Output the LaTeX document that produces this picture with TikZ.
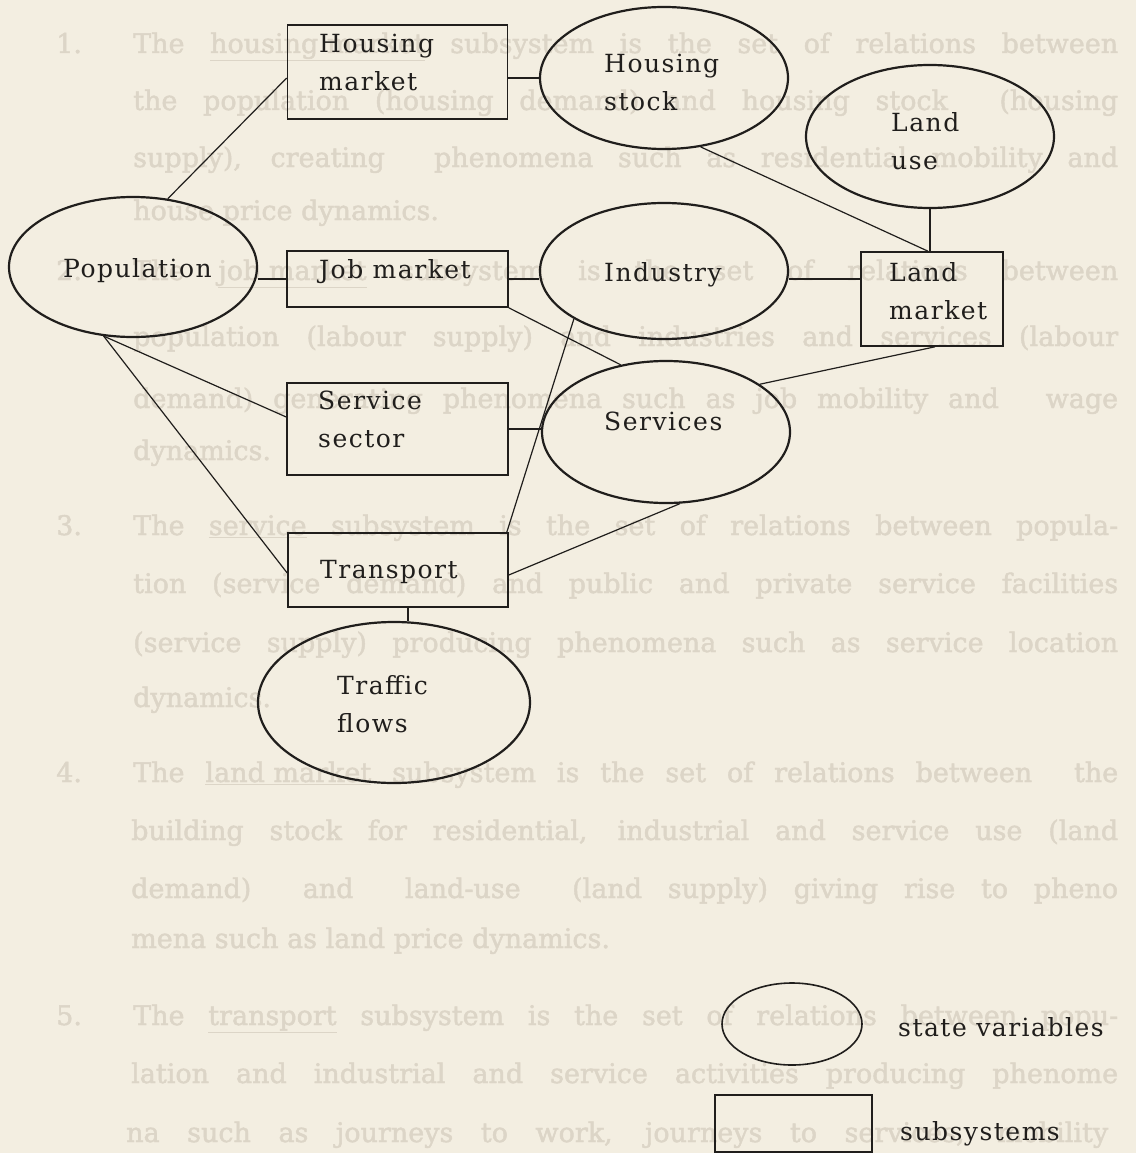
\documentclass[tikz,border=0pt]{standalone}
\usepackage{fontspec}
\usetikzlibrary{shapes.geometric}
\newfontfamily\diagfont{DejaVu Serif}[LetterSpace=6]
\newfontfamily\pagefont{DejaVu Serif}[FakeBold=1.6]
\definecolor{paper}{RGB}{243,238,225}
\definecolor{ink}{RGB}{32,30,28}
\definecolor{ghostink}{RGB}{220,213,199}

\begin{document}
\begin{tikzpicture}[x=1pt,y=-1pt,
  subsys/.style={draw=ink, line width=1.6pt, rectangle, inner sep=0pt},
  statevar/.style={draw=ink, line width=2.2pt, ellipse, inner sep=0pt},
  lbl/.style={inner sep=0pt, align=left, text=ink, font=\diagfont\fontsize{25}{38}\selectfont},
  link/.style={draw=ink, line width=1.2pt},
  ghost/.style={inner sep=0pt, anchor=base west, text=ghostink, font=\pagefont\fontsize{27}{40}\selectfont},
]
% page
\fill[paper] (0,0) rectangle (1136,1153);
\useasboundingbox (0,0) rectangle (1136,1153);

% faded running text of the page
\node[ghost] (n1) at (56,53) {1.};
\node[ghost] (g1) at (133,53) {\makebox[985pt][s]{The \underline{housing market} subsystem is the set of relations between}};
\node[ghost] (g2) at (133,110) {\makebox[985pt][s]{the population (housing demand) and housing stock \ (housing}};
\node[ghost] (g3) at (133,167) {\makebox[985pt][s]{supply), creating \ phenomena such as residential mobility and}};
\node[ghost] (g4) at (133,220) {house price dynamics.};
\node[ghost] (n2) at (56,280) {2.};
\node[ghost] (g5) at (133,280) {\makebox[985pt][s]{The \underline{job market} subsystem is the set of relations between}};
\node[ghost] (g6) at (133,346) {\makebox[985pt][s]{population (labour supply) and industries and services (labour}};
\node[ghost] (g7) at (133,408) {\makebox[985pt][s]{demand) generating phenomena such as job mobility and \quad wage}};
\node[ghost] (g8) at (133,460) {dynamics.};
\node[ghost] (n3) at (56,535) {3.};
\node[ghost] (g9) at (133,535) {\makebox[985pt][s]{The \underline{service} subsystem is the set of relations between popula-}};
\node[ghost] (g10) at (133,593) {\makebox[985pt][s]{tion (service demand) and public and private service facilities}};
\node[ghost] (g11) at (133,652) {\makebox[985pt][s]{(service supply) producing phenomena such as service location}};
\node[ghost] (g12) at (133,707) {dynamics.};
\node[ghost] (n4) at (56,782) {4.};
\node[ghost] (g13) at (133,782) {\makebox[985pt][s]{The \underline{land market} subsystem is the set of relations between \ the}};
\node[ghost] (g14) at (131,840) {\makebox[987pt][s]{building stock for residential, industrial and service use (land}};
\node[ghost] (g15) at (131,898) {\makebox[987pt][s]{demand) \ and \ land-use \ (land supply) giving rise to pheno}};
\node[ghost] (g16) at (131,948) {mena such as land price dynamics.};
\node[ghost] (n5) at (56,1025) {5.};
\node[ghost] (g17) at (133,1025) {\makebox[985pt][s]{The \underline{transport} subsystem is the set of relations between popu-}};
\node[ghost] (g18) at (131,1083) {\makebox[987pt][s]{lation and industrial and service activities producing phenome}};
\node[ghost] (g19) at (126,1142) {\makebox[982pt][s]{na such as journeys to work, journeys to services, mobility}};

% subsystems (rectangles)
\node[subsys, minimum width=220pt, minimum height=94pt] (hm) at (397.5,72) {};
\node[subsys, minimum width=221pt, minimum height=56pt] (jm) at (397.5,279) {};
\node[subsys, minimum width=142pt, minimum height=94pt] (lm) at (932,299) {};
\node[subsys, minimum width=221pt, minimum height=92pt] (ss) at (397.5,429) {};
\node[subsys, minimum width=220pt, minimum height=74pt] (tr) at (398,570) {};

% state variables (ellipses)
\node[statevar, minimum width=248pt, minimum height=142pt] (hs) at (664,78) {};
\node[statevar, minimum width=248pt, minimum height=143pt] (lu) at (930,136.5) {};
\node[statevar, minimum width=248pt, minimum height=140pt] (pop) at (133,267) {};
\node[statevar, minimum width=248pt, minimum height=136pt] (ind) at (664,271) {};
\node[statevar, minimum width=248pt, minimum height=142pt] (sv) at (666,432) {};
\node[statevar, minimum width=272pt, minimum height=161pt] (tf) at (394,702.5) {};

% labels
\node[lbl, anchor=west] (hm-t) at (319,62.5) {Housing\\market};
\node[lbl, anchor=west] (hs-t) at (604,82.5) {Housing\\stock};
\node[lbl, anchor=west] (lu-t) at (891,141.5) {Land\\use};
\node[lbl, anchor=base west] (pop-t) at (63,277) {Population};
\node[lbl, anchor=base west] (jm-t) at (319,278) {Job market};
\node[lbl, anchor=base west] (ind-t) at (604,281) {Industry};
\node[lbl, anchor=west] (lm-t) at (889,291.5) {Land\\market};
\node[lbl, anchor=west] (ss-t) at (318,419.5) {Service\\sector};
\node[lbl, anchor=base west] (sv-t) at (604,430) {Services};
\node[lbl, anchor=base west] (tr-t) at (320,578) {Transport};
\node[lbl, anchor=west] (tf-t) at (337,704.5) {Traffic\\flows};

% connections
\draw[link] (hm.east |- hs.west) -- (hs.west);
\draw[link] (hm.west |- hs.west) -- (pop.63);
\draw[link] (hs.298) -- ([xshift=-4pt]lm.north);
\draw[link] (lu.south) -- (lu.south |- lm.north);
\draw[link] (jm.west) -- (pop.east |- jm.west);
\draw[link] (jm.east) -- (jm.east -| ind.west);
\draw[link] (jm.east -| ind.east) -- (jm.east -| lm.west);
\draw[link] (pop.247) -- ([yshift=12pt]ss.west);
\draw[link] (pop.247) -- ([yshift=-3pt]tr.west);
\draw[link] (jm.south east) -- (sv.124);
\draw[link] (ind.208) -- ([xshift=-2pt]tr.north east);
\draw[link] (ss.east) -- (ss.east -| sv.west);
\draw[link] ([xshift=3pt]lm.south) -- (sv.27);
\draw[link] (sv.281) -- ([yshift=-5pt]tr.east);
\coordinate (trj) at ([xshift=10pt]tr.south);
\draw[link] (trj) -- (trj |- tf.north);

% key
\node[statevar, line width=1.6pt, minimum width=140pt, minimum height=82pt] (key-sv) at (792,1024) {};
\node[subsys, minimum width=157pt, minimum height=57pt] (key-ss) at (793.5,1123.5) {};
\node[lbl, anchor=base west] (key-sv-t) at (898,1036) {state variables};
\node[lbl, anchor=base west] (key-ss-t) at (900,1140) {subsystems};
\end{tikzpicture}
\end{document}
